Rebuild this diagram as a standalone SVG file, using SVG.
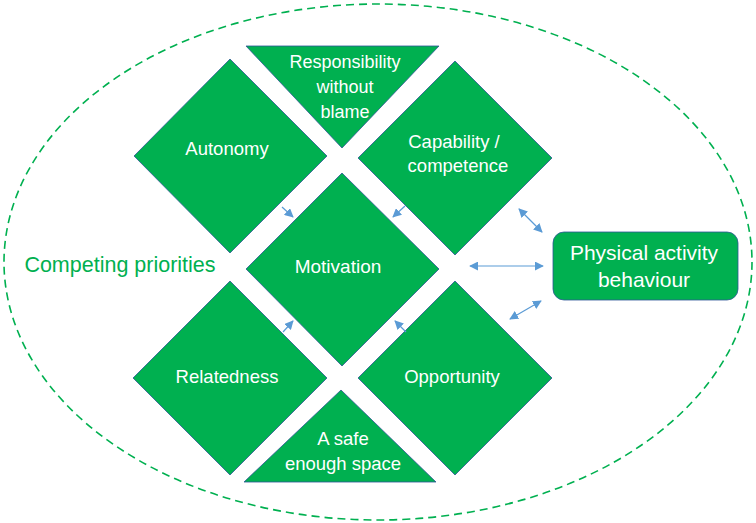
<svg xmlns="http://www.w3.org/2000/svg" width="756" height="523" viewBox="0 0 756 523">
<defs>
<style>
.shape{fill:#00B050;stroke:#2F5597;stroke-width:0.8}
.lbl{font-family:"Liberation Sans",Arial,sans-serif;fill:#ffffff;text-anchor:middle}
.con{stroke:#5B9BD5;stroke-width:1.2;fill:none}
</style>
<marker id="ah" viewBox="0 0 10 10" refX="9" refY="5" markerWidth="9" markerHeight="9" markerUnits="userSpaceOnUse" orient="auto-start-reverse">
<path d="M0,0 L10,5 L0,10 z" fill="#5B9BD5"/>
</marker>
</defs>
<rect width="756" height="523" fill="#ffffff"/>
<g id="competing-priorities">
<ellipse cx="378" cy="262" rx="374" ry="258" fill="none" stroke="#00B050" stroke-width="1.6" stroke-dasharray="8 5"/>
<text x="120" y="272" font-family="Liberation Sans,Arial,sans-serif" font-size="21.5" fill="#00B050" text-anchor="middle">Competing priorities</text>
</g>
<g id="responsibility">
<polygon class="shape" points="246,46 439,46 342,148"/>
<text class="lbl" font-size="18" x="345" y="68">Responsibility</text>
<text class="lbl" font-size="18" x="345" y="93">without</text>
<text class="lbl" font-size="18" x="345" y="118">blame</text>
</g>
<g id="autonomy">
<polygon class="shape" points="230,59 327,156 230,253 134,156"/>
<text class="lbl" font-size="18.5" x="227" y="155">Autonomy</text>
</g>
<g id="capability">
<polygon class="shape" points="455,61 552,158 455,255 358,158"/>
<text class="lbl" font-size="18.5" x="454" y="148">Capability /</text>
<text class="lbl" font-size="18.5" x="458" y="172">competence</text>
</g>
<g id="motivation">
<polygon class="shape" points="342,173 439,269 342,366 246,269"/>
<text class="lbl" font-size="19" x="338" y="273">Motivation</text>
</g>
<g id="relatedness">
<polygon class="shape" points="230,281 327,378 230,475 133,378"/>
<text class="lbl" font-size="18.5" x="227" y="383">Relatedness</text>
</g>
<g id="opportunity">
<polygon class="shape" points="455,281 552,378 455,475 358,378"/>
<text class="lbl" font-size="18.5" x="452" y="383">Opportunity</text>
</g>
<g id="safe-space">
<polygon class="shape" points="341,390 436,482 244,482"/>
<text class="lbl" font-size="18.5" x="343" y="445">A safe</text>
<text class="lbl" font-size="18.5" x="343" y="470">enough space</text>
</g>
<g id="physical-activity">
<rect class="shape" x="553" y="232" width="185" height="68" rx="11" ry="11"/>
<text class="lbl" font-size="21" x="644" y="260">Physical activity</text>
<text class="lbl" font-size="21" x="644" y="287">behaviour</text>
</g>
<g id="connectors">
<line class="con" x1="282" y1="207" x2="293" y2="217" marker-end="url(#ah)"/>
<line class="con" x1="405" y1="206" x2="393" y2="217" marker-end="url(#ah)"/>
<line class="con" x1="283" y1="332" x2="293" y2="321" marker-end="url(#ah)"/>
<line class="con" x1="406" y1="332" x2="395" y2="321" marker-end="url(#ah)"/>
<line class="con" x1="519" y1="209" x2="542" y2="232" marker-start="url(#ah)" marker-end="url(#ah)"/>
<line class="con" x1="470" y1="266" x2="543" y2="266" marker-start="url(#ah)" marker-end="url(#ah)"/>
<line class="con" x1="510" y1="319" x2="541" y2="301" marker-start="url(#ah)" marker-end="url(#ah)"/>
</g>
</svg>
